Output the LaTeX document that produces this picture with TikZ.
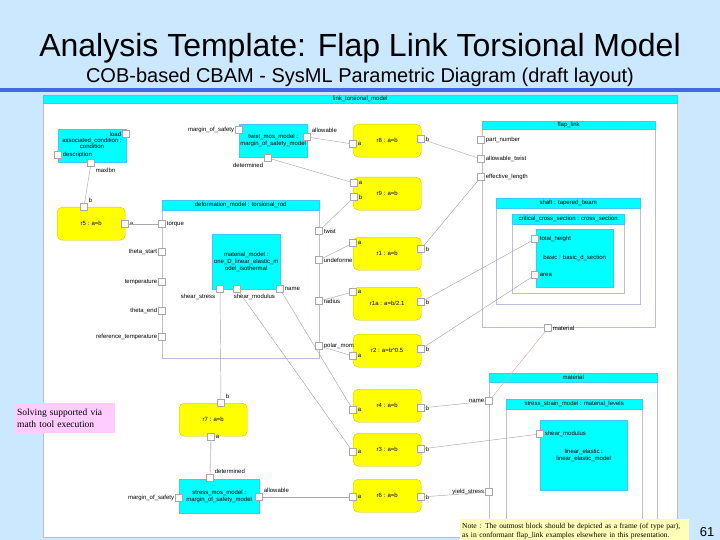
\documentclass[tikz,border=0pt]{standalone}
\usepackage{fontspec}
\setmainfont{Liberation Sans}
\newfontfamily\notefont{Liberation Serif}
\usetikzlibrary{positioning}
\definecolor{slideblue}{HTML}{CCE8FF}
\definecolor{rulerblue}{HTML}{4169E1}
\definecolor{blockcyan}{HTML}{00FFFF}
\definecolor{cyanedge}{HTML}{40C8F0}
\definecolor{relyellow}{HTML}{FFFF00}
\definecolor{reledge}{HTML}{D8C000}
\definecolor{frameedge}{HTML}{BCBCDC}
\definecolor{notepink}{HTML}{FFCCFF}
\definecolor{noteyellow}{HTML}{FFFFB8}
\definecolor{wiregray}{HTML}{A8A8A8}
\definecolor{wirered}{HTML}{F0A8A8}

\tikzset{
  lbl/.style={font=\fontsize{6}{7}\selectfont, inner sep=1pt},
  portbox/.style={draw=wiregray, fill=white, minimum size=7pt, inner sep=0pt, line width=0.4pt},
  relbox/.style={draw=reledge, fill=relyellow, rounded corners=5pt, minimum width=68pt,
    minimum height=33pt, anchor=north west, inner sep=0pt, font=\fontsize{6}{7}\selectfont},
  partbox/.style={draw=cyanedge, fill=blockcyan, anchor=north west, inner sep=0pt,
    align=center, font=\fontsize{6}{7}\selectfont},
  framebox/.style={draw=frameedge, fill=white, anchor=north west, inner sep=0pt, line width=0.6pt},
  headbar/.style={draw=cyanedge, fill=blockcyan, anchor=north west, inner sep=0pt,
    font=\fontsize{6}{7}\selectfont},
  conn/.style={draw=wiregray, line width=0.45pt},
}

\begin{document}
\begin{tikzpicture}[x=1pt, y=-1pt]
  \fill[slideblue] (0,0) rectangle (720,540);
  \useasboundingbox (0,0) rectangle (720,540);

  % title
  \node[font=\fontsize{32}{36}\selectfont, anchor=base] (title) at (360,57)
    {Analysis Template: Flap Link Torsional Model};
  \node[font=\fontsize{20}{24}\selectfont, anchor=base] (subtitle) at (360,83)
    {COB-based CBAM - SysML Parametric Diagram (draft layout)};
  \fill[rulerblue] (0,88) rectangle (720,92);

  % frames
  \node[framebox, minimum width=634pt, minimum height=442pt] (ltm) at (43,95) {};
  \node[headbar, minimum width=634pt, minimum height=8pt] (ltmhead) at (43,95) {link\_torsional\_model};
  \node[framebox, minimum width=157pt, minimum height=158pt] (defrm) at (162,200) {};
  \node[headbar, minimum width=157pt, minimum height=10pt] (defhead) at (162,200) {deformation\_model : torsional\_rod};
  \node[framebox, minimum width=173pt, minimum height=206pt] (flap) at (482,121) {};
  \node[headbar, minimum width=173pt, minimum height=8pt] (flaphead) at (482,121) {flap\_link};
  \node[framebox, minimum width=144pt, minimum height=106pt] (shaft) at (496,198) {};
  \node[headbar, minimum width=144pt, minimum height=10pt] (shafthead) at (496,198) {shaft : tapered\_beam};
  \node[framebox, minimum width=112pt, minimum height=79pt] (crit) at (512,214) {};
  \node[headbar, minimum width=112pt, minimum height=10pt] (crithead) at (512,214) {critical\_cross\_section : cross\_section};
  \node[framebox, minimum width=168pt, minimum height=164pt] (mat) at (489,373) {};
  \node[headbar, minimum width=168pt, minimum height=9pt] (mathead) at (489,373) {material};
  \node[framebox, minimum width=136pt, minimum height=138pt] (ssm) at (506,399) {};
  \node[headbar, minimum width=136pt, minimum height=10pt] (ssmhead) at (506,399) {stress\_strain\_model : material\_levels};

  % blocks
  \node[partbox, minimum width=68pt, minimum height=33pt] (loadblk) at (58,129) {};
  \node[lbl, align=center] (loadtxt) at (92,143.5) {associated\_condition :\\[-0.8pt]condition};
  \node[partbox, minimum width=68pt, minimum height=33pt] (twistmos) at (239,124) {twist\_mos\_model :\\margin\_of\_safety\_model};
  \node[partbox, minimum width=68pt, minimum height=55pt] (matmodel) at (212,234) {material\_model :\\one\_D\_linear\_elastic\_m\\odel\_isothermal};
  \node[partbox, minimum width=80pt, minimum height=34pt] (stressmos) at (179,479) {stress\_mos\_model :\\margin\_of\_safety\_model};
  \node[partbox, minimum width=77pt, minimum height=58pt] (basic) at (536,229) {basic : basic\_d\_section};
  \node[partbox, minimum width=87pt, minimum height=70pt] (linel) at (540,420) {linear\_elastic :\\linear\_elastic\_model};

  % relations
  \node[relbox] (rel8) at (353,124) {r8 : a=b};
  \node[relbox] (rel9) at (353,177) {r9 : a=b};
  \node[relbox] (rel1) at (353,237) {r1 : a=b};
  \node[relbox] (rel1a) at (353,287) {r1a : a=b/2.1};
  \node[relbox] (rel2) at (353,334) {r2 : a=b\textasciicircum 0.5};
  \node[relbox] (rel4) at (353,389) {r4 : a=b};
  \node[relbox] (rel3) at (353,433) {r3 : a=b};
  \node[relbox] (rel6) at (353,479) {r6 : a=b};
  \node[relbox] (rel5) at (57,207) {r5 : a=b};
  \node[relbox] (rel7) at (179,403) {r7 : a=b};

  % ports
  \node[portbox, label={[lbl]left:load}] (pload) at (126,134) {};
  \node[portbox, label={[lbl]right:description}] (pdesc) at (58,155) {};
  \node[portbox, label={[lbl]below right:maxlbn}] (pmax) at (91,163) {};
  \node[portbox, label={[lbl]above right:b}] (r5b) at (84,207) {};
  \node[portbox, label={[lbl]right:a}] (r5a) at (125,224) {};
  \node[portbox, label={[lbl]right:torque}] (ptorque) at (162,224) {};
  \node[portbox, label={[lbl]left:theta\_start}] (pthstart) at (162,252) {};
  \node[portbox, label={[lbl]left:temperature}] (ptemp) at (162,282) {};
  \node[portbox, label={[lbl]left:theta\_end}] (pthend) at (162,311) {};
  \node[portbox, label={[lbl]left:reference\_temperature}] (preftemp) at (162,337) {};
  \node[portbox, label={[lbl]below left:shear\_stress}] (mmss) at (220,289) {};
  \node[portbox, label={[lbl, xshift=-8pt]below right:shear\_modulus}] (mmsm) at (237,289) {};
  \node[portbox, label={[lbl]right:name}] (mmname) at (280,289) {};
  \node[portbox, label={[lbl]right:twist}] (ptwist) at (319,231) {};
  \node[portbox, label={[lbl]right:undeforme}] (pundef) at (319,260) {};
  \node[portbox, label={[lbl]right:radius}] (pradius) at (319,301) {};
  \node[portbox, label={[lbl]right:polar\_mom}] (ppolar) at (319,346) {};
  \node[portbox, label={[lbl]left:margin\_of\_safety}] (tmmos) at (239,130) {};
  \node[portbox, label={[lbl]above right:allowable}] (tmallow) at (307,137) {};
  \node[portbox, label={[lbl]below left:determined}] (tmdet) at (268,158) {};
  \node[portbox, label={[lbl]right:a}] (r8a) at (353,144) {};
  \node[portbox, label={[lbl]right:b}] (r8b) at (421,139) {};
  \node[portbox, label={[lbl]right:a}] (r9a) at (354,183) {};
  \node[portbox, label={[lbl]right:b}] (r9b) at (354,197) {};
  \node[portbox, label={[lbl]right:a}] (r1a) at (353,243) {};
  \node[portbox, label={[lbl]right:b}] (r1b) at (421,249) {};
  \node[portbox, label={[lbl]right:a}] (r1aa) at (353,292) {};
  \node[portbox, label={[lbl]right:b}] (r1ab) at (421,302) {};
  \node[portbox, label={[lbl]right:a}] (r2a) at (353,356) {};
  \node[portbox, label={[lbl]right:b}] (r2b) at (421,349) {};
  \node[portbox, label={[lbl]right:a}] (r4a) at (353,410) {};
  \node[portbox, label={[lbl]right:b}] (r4b) at (421,408) {};
  \node[portbox, label={[lbl]right:a}] (r3a) at (353,452) {};
  \node[portbox, label={[lbl]right:b}] (r3b) at (421,449) {};
  \node[portbox, label={[lbl]right:a}] (r6a) at (353,497) {};
  \node[portbox, label={[lbl]right:b}] (r6b) at (421,497) {};
  \node[portbox, label={[lbl]above right:b}] (r7b) at (221,403) {};
  \node[portbox, label={[lbl]right:a}] (r7a) at (211,437) {};
  \node[portbox, label={[lbl]above right:determined}] (smdet) at (210,478) {};
  \node[portbox, label={[lbl]left:margin\_of\_safety}] (smmos) at (179,498) {};
  \node[portbox, label={[lbl]above right:allowable}] (smallow) at (259,497) {};
  \node[portbox, label={[lbl]right:part\_number}] (ppart) at (481,140) {};
  \node[portbox, label={[lbl]right:allowable\_twist}] (pallowtw) at (481,159) {};
  \node[portbox, label={[lbl]right:effective\_length}] (peff) at (481,177) {};
  \node[portbox, label={[lbl]right:total\_height}] (ptotal) at (535,239) {};
  \node[portbox, label={[lbl]right:area}] (parea) at (535,275) {};
  \node[portbox, label={[lbl]right:material}] (pmaterial) at (548,328) {};
  \node[portbox, label={[lbl]left:name}] (matname) at (489,401) {};
  \node[portbox, label={[lbl]left:yield\_stress}] (matyield) at (489,492) {};
  \node[portbox, label={[lbl]right:shear\_modulus}] (lesm) at (540,434) {};

  % bindings
  \draw[conn] (pmax) -- (r5b);
  \draw[conn] (r5a) -- (ptorque);
  \draw[conn] (tmallow) -- (r8a);
  \draw[conn] (r8b) -- (pallowtw);
  \draw[conn] (tmdet) -- (r9a);
  \draw[conn] (ptwist) -- (r9b);
  \draw[conn] (pundef) -- (r1a);
  \draw[conn] (r1b) -- (peff);
  \draw[conn] (pradius) -- (r1aa);
  \draw[conn] (r1ab) -- (ptotal);
  \draw[conn] (ppolar) -- (r2a);
  \draw[conn] (r2b) -- (parea);
  \draw[conn] (mmss) -- (r7b);
  \draw[conn, line width=1.2pt, draw=gray!35] (r7a) -- (smdet);
  \draw[conn] (smallow) -- (r6a);
  \draw[conn] (r6b) -- (matyield);
  \draw[conn] (mmname) -- (r4a);
  \draw[conn] (r4b) -- (matname);
  \draw[conn] (mmsm) -- (r3a);
  \draw[conn] (r3b) -- (lesm);
  \draw[conn, draw=wirered] (pmaterial) -- (matname);

  % notes
  \node[fill=notepink, anchor=north west, minimum width=100pt, minimum height=30pt, inner sep=2pt,
    text width=96pt, align=left, font=\notefont\fontsize{9.5}{12}\selectfont] (solvenote) at (15,403)
    {Solving supported via\\math tool execution};
  \node[fill=noteyellow, anchor=north west, minimum width=229pt, minimum height=23pt, inner sep=2pt,
    text width=225pt, align=left, font=\notefont\fontsize{7.5}{9}\selectfont] (outnote) at (460,519)
    {Note : The outmost block should be depicted as a frame (of type par),\\as in conformant flap\_link examples elsewhere in this presentation.};
  \node[font=\fontsize{13}{15}\selectfont] (pagenum) at (707,532) {61};
\end{tikzpicture}
\end{document}
